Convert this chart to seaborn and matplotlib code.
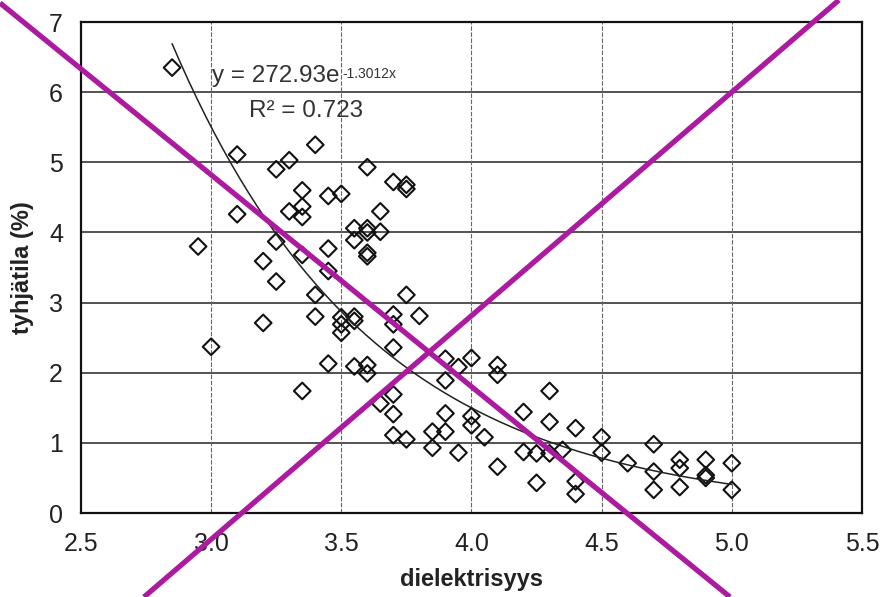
import numpy as np
import pandas as pd
import matplotlib
matplotlib.use("Agg")
import matplotlib.pyplot as plt
from matplotlib.lines import Line2D
from matplotlib.ticker import MultipleLocator
import seaborn as sns

# dielectric value vs. air-void content (%) measurements
dielektrisyys = [
    2.85, 2.95, 3.00, 3.10, 3.10, 3.20, 3.20, 3.25, 3.25, 3.25,
    3.30, 3.30, 3.35, 3.35, 3.35, 3.35, 3.35, 3.40, 3.40, 3.40,
    3.45, 3.45, 3.45, 3.45, 3.50, 3.50, 3.50, 3.50, 3.55, 3.55,
    3.55, 3.55, 3.55, 3.60, 3.60, 3.60, 3.60, 3.60, 3.60, 3.60,
    3.65, 3.65, 3.65, 3.70, 3.70, 3.70, 3.70, 3.70, 3.70, 3.70,
    3.75, 3.75, 3.75, 3.75, 3.80, 3.85, 3.85, 3.90, 3.90, 3.90,
    3.90, 3.95, 3.95, 4.00, 4.00, 4.00, 4.05, 4.10, 4.10, 4.10,
    4.20, 4.20, 4.25, 4.25, 4.30, 4.30, 4.30, 4.35, 4.40, 4.40,
    4.40, 4.50, 4.50, 4.60, 4.70, 4.70, 4.70, 4.80, 4.80, 4.80,
    4.90, 4.90, 4.90, 5.00, 5.00,
]
tyhjatila = [
    6.35, 3.80, 2.37, 5.11, 4.26, 3.59, 2.71, 4.90, 3.87, 3.30,
    5.03, 4.30, 4.60, 4.37, 4.22, 3.68, 1.74, 5.25, 3.11, 2.80,
    4.52, 3.77, 3.45, 2.13, 4.55, 2.79, 2.69, 2.57, 4.06, 3.89,
    2.80, 2.74, 2.09, 4.93, 4.06, 4.00, 3.71, 3.66, 2.11, 1.99,
    4.30, 4.01, 1.56, 4.72, 2.83, 2.69, 2.36, 1.69, 1.41, 1.11,
    4.68, 4.62, 3.11, 1.05, 2.81, 1.16, 0.93, 2.20, 1.89, 1.42,
    1.16, 2.08, 0.86, 2.21, 1.38, 1.25, 1.08, 2.11, 1.97, 0.66,
    1.44, 0.87, 0.85, 0.43, 1.74, 1.30, 0.85, 0.90, 1.21, 0.45,
    0.27, 1.08, 0.86, 0.71, 0.98, 0.59, 0.33, 0.76, 0.64, 0.37,
    0.76, 0.54, 0.50, 0.71, 0.33,
]

# exponential trend line y = a * exp(b * x) and its R^2
fit_a = 272.93
fit_b = -1.3012
fit_r2 = 0.723

x_ticks = [2.5, 3.0, 3.5, 4.0, 4.5, 5.0, 5.5]
y_ticks = [0, 1, 2, 3, 4, 5, 6, 7]

df = pd.DataFrame({"dielektrisyys": dielektrisyys, "tyhjatila": tyhjatila})
x_fit = np.linspace(min(dielektrisyys), max(dielektrisyys), 200)
fit_df = pd.DataFrame({"x": x_fit, "y": fit_a * np.exp(fit_b * x_fit)})

sns.set_theme(style="white")
plt.rcParams["font.family"] = ["Liberation Sans", "DejaVu Sans"]

fig = plt.figure(figsize=(8.8, 5.97), dpi=100)
ax = fig.add_axes([0.092, 0.1407, 0.8875, 0.8224])

sns.lineplot(data=fit_df, x="x", y="y", ax=ax, color="#222222", linewidth=1.1)
sns.scatterplot(data=df, x="dielektrisyys", y="tyhjatila", ax=ax, marker="D",
                s=72, facecolor="none", edgecolor="#111111", linewidth=1.5)

ax.set_xlim(x_ticks[0], x_ticks[-1])
ax.set_ylim(y_ticks[0], y_ticks[-1])
ax.set_xticks(x_ticks)
ax.set_xticklabels([f"{v:.1f}" for v in x_ticks])
ax.set_yticks(y_ticks)
ax.xaxis.set_minor_locator(MultipleLocator(0.1))
ax.yaxis.set_minor_locator(MultipleLocator(0.2))

ax.grid(False)
for v in y_ticks[1:-1]:
    ax.axhline(v, color="#444444", linewidth=1.3, zorder=0)
for v in x_ticks[1:-1]:
    ax.axvline(v, color="#666666", linewidth=0.8, linestyle=(0, (4, 1.5)), zorder=0)

for side in ["left", "bottom", "top", "right"]:
    ax.spines[side].set_visible(True)
    ax.spines[side].set_color("#111111")
    ax.spines[side].set_linewidth(1.6)

ax.tick_params(axis="both", which="major", direction="in", length=5, width=1,
               color="#333333", labelsize=18, labelcolor="#222222")
ax.tick_params(axis="x", which="major", pad=14)
ax.tick_params(axis="y", which="major", pad=13)
ax.tick_params(axis="both", which="minor", direction="in", length=3, width=0.8,
               color="#555555")

ax.set_xlabel("dielektrisyys", fontsize=17, fontweight="bold", color="#222222", labelpad=8)
ax.set_ylabel("tyhjätila (%)", fontsize=17, fontweight="bold", color="#222222", labelpad=11)

eq = ax.text(3.005, 6.23, "y = 272.93e", fontsize=17.5, color="#333333",
             ha="left", va="center")
ax.annotate("-1.3012x", xy=(1.02, 0.93), xycoords=eq, fontsize=10,
            color="#333333", ha="left", va="top")
ax.text(3.147, 5.73, f"R² = {fit_r2}", fontsize=17.5, color="#333333",
        ha="left", va="center")

# diagonal cross over the whole figure
cross_color = "#AC1A9F"
fig.add_artist(Line2D([0.0, 730 / 880], [1 - 3 / 597, 0.0], transform=fig.transFigure,
                      color=cross_color, linewidth=3.8, solid_capstyle="butt"))
fig.add_artist(Line2D([144 / 880, 839 / 880], [0.0, 1.0], transform=fig.transFigure,
                      color=cross_color, linewidth=3.8, solid_capstyle="butt"))

fig.savefig("out.png", dpi=100)
